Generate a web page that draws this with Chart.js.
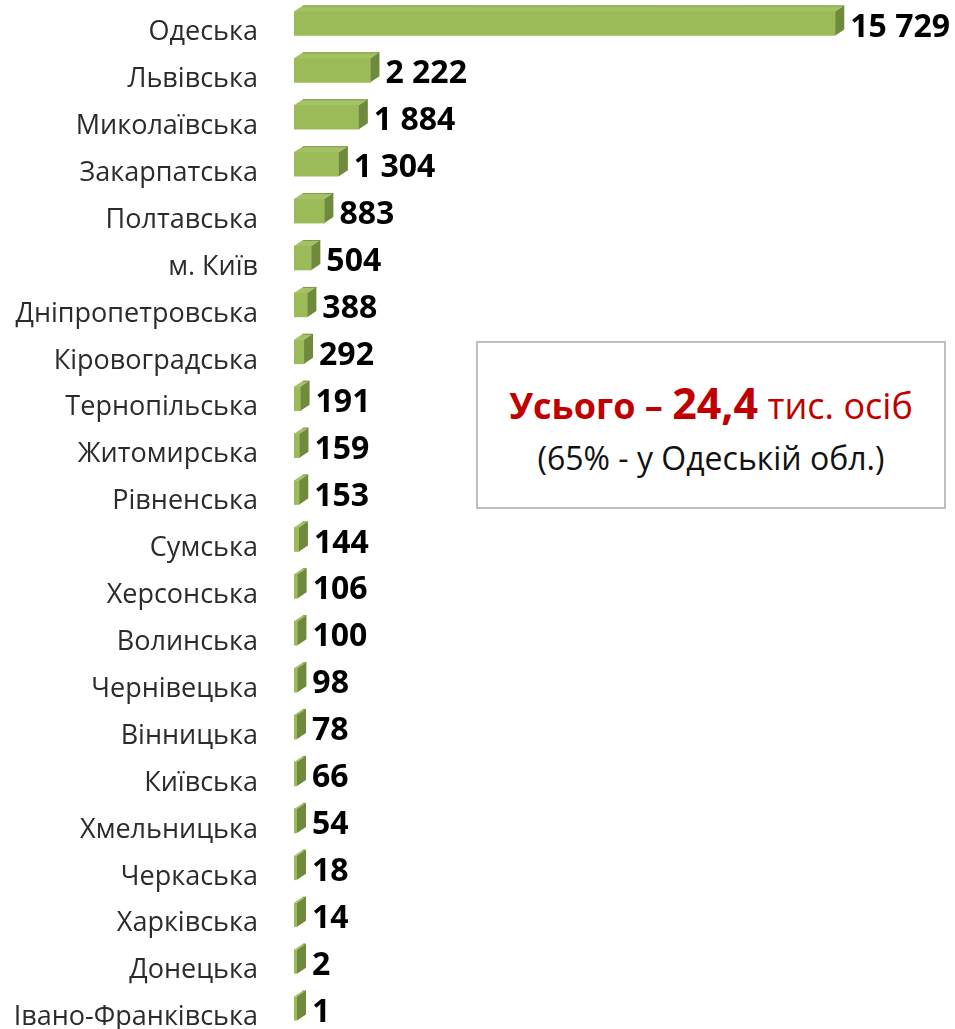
<!DOCTYPE html>
<html>
<head>
<meta charset="utf-8">
<script src="https://cdn.jsdelivr.net/npm/chart.js@4.4.0/dist/chart.umd.min.js"></script>
<style>
  html, body { margin: 0; padding: 0; background: #fff; overflow: hidden; }
  #wrap { position: relative; width: 955px; height: 1060px; }
  #note {
    position: absolute; left: 476px; top: 341px; width: 466px; height: 164px;
    border: 2px solid #bfbfbf; background: #fff; text-align: center;
    font-family: "Open Sans", sans-serif; box-sizing: content-box;
  }
  #note .l1 { position: absolute; left: 0; right: 0; top: 35px; color: #c00000; font-size: 36px; line-height: 50px; white-space: nowrap; }
  #note .l1 b { font-weight: 700; }
  #note .l1 .big { font-size: 43px; }
  #note .l2 { position: absolute; left: 0; right: 0; top: 93px; color: #111; font-size: 32px; line-height: 44px; white-space: nowrap; }
</style>
</head>
<body>
<div id="wrap">
  <canvas id="chart" width="955" height="1060"></canvas>
  <div id="note">
    <div class="l1"><b>Усього – <span class="big">24,4</span></b> тис. осіб</div>
    <div class="l2">(65% - у Одеській обл.)</div>
  </div>
</div>
<script>
// Області та кількість осіб
const regions = [
    'Одеська', 'Львівська', 'Миколаївська', 'Закарпатська', 'Полтавська', 'м. Київ',
    'Дніпропетровська', 'Кіровоградська', 'Тернопільська', 'Житомирська', 'Рівненська',
    'Сумська', 'Херсонська', 'Волинська', 'Чернівецька', 'Вінницька', 'Київська',
    'Хмельницька', 'Черкаська', 'Харківська', 'Донецька', 'Івано-Франківська'
];
const persons = [15729, 2222, 1884, 1304, 883, 504, 388, 292, 191, 159, 153, 144, 106, 100, 98, 78, 66, 54, 18, 14, 2, 1];

const DX = 9, DY = -6;

function fmt(v) {
    return String(v).replace(/\B(?=(\d{3})+(?!\d))/g, ' ');
}

// Псевдо-3D: верхня та бокова грані + підписи значень
const bars3d = {
    id: 'bars3d',
    afterDatasetsDraw(chart) {
        const ctx = chart.ctx;
        const meta = chart.getDatasetMeta(0);
        ctx.save();
        meta.data.forEach((bar, i) => {
            const p = bar.getProps(['x', 'y', 'base', 'height'], true);
            const x0 = p.base, x1 = Math.max(p.x, p.base + 3);
            const top = p.y - p.height / 2, bot = p.y + p.height / 2;
            if (p.x < x1) {
                ctx.fillStyle = '#9bbb59';
                ctx.fillRect(x0, top, x1 - x0, bot - top);
            }
            // верх
            ctx.beginPath();
            ctx.moveTo(x0, top);
            ctx.lineTo(x0 + DX, top + DY);
            ctx.lineTo(x1 + DX, top + DY);
            ctx.lineTo(x1, top);
            ctx.closePath();
            ctx.fillStyle = '#a4c264';
            ctx.fill();
            ctx.strokeStyle = '#7d9a45';
            ctx.lineWidth = 1;
            ctx.beginPath();
            ctx.moveTo(x0 + DX, top + DY + 0.5);
            ctx.lineTo(x1 + DX, top + DY + 0.5);
            ctx.stroke();
            // бік
            ctx.beginPath();
            ctx.moveTo(x1, top);
            ctx.lineTo(x1 + DX, top + DY);
            ctx.lineTo(x1 + DX, bot + DY);
            ctx.lineTo(x1, bot);
            ctx.closePath();
            ctx.fillStyle = '#6f8a3c';
            ctx.fill();
            // значення
            ctx.fillStyle = '#000';
            ctx.font = 'bold 32px "Open Sans"';
            ctx.textAlign = 'left';
            ctx.textBaseline = 'middle';
            ctx.fillText(fmt(persons[i]), x1 + DX + 6, p.y + 4);
        });
        ctx.restore();
    }
};

new Chart(document.getElementById('chart').getContext('2d'), {
    type: 'bar',
    data: {
        labels: regions,
        datasets: [{
            data: persons,
            backgroundColor: '#9bbb59',
            borderWidth: 0,
            barThickness: 24
        }]
    },
    options: {
        indexAxis: 'y',
        responsive: false,
        animation: false,
        layout: { padding: { top: 0, bottom: 28, left: 0, right: 76 } },
        plugins: { legend: { display: false }, tooltip: { enabled: false } },
        scales: {
            x: { display: false, min: 0, max: 17000 },
            y: {
                grid: { display: false },
                border: { display: false },
                ticks: {
                    color: '#2b2b2b',
                    font: { family: 'Open Sans', size: 27 },
                    padding: 28,
                    labelOffset: 9,
                    autoSkip: false
                },
                afterFit(scale) {
                    scale.width = 294;
                    scale.paddingTop = 0;
                    scale.paddingBottom = 0;
                }
            }
        }
    },
    plugins: [bars3d]
});
</script>
</body>
</html>
